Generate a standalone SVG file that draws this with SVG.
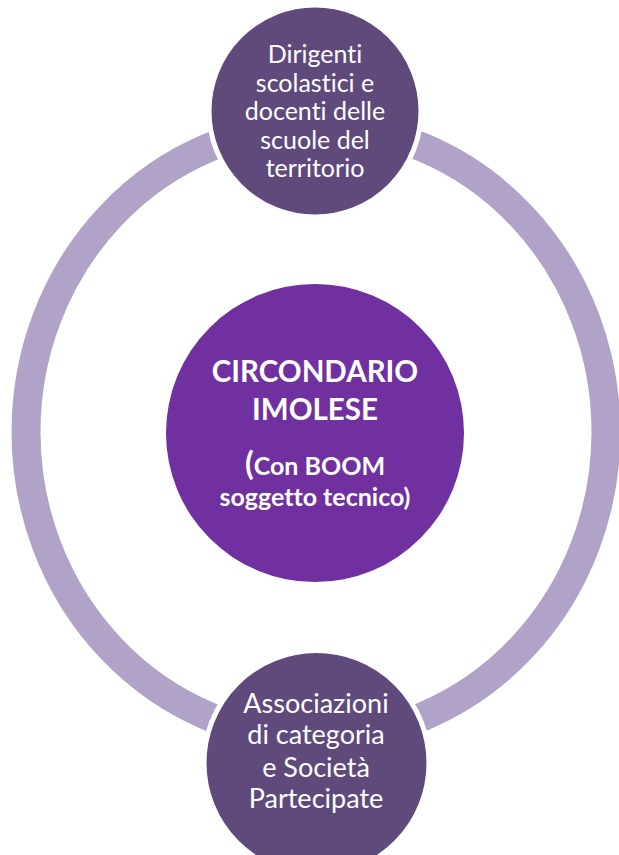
<svg xmlns="http://www.w3.org/2000/svg" width="619" height="855" viewBox="0 0 619 855">
<style>
.ring{fill:none;stroke:#B1A2C8;stroke-width:29}
.node{fill:#604A7B;stroke:#FFFFFF;stroke-width:5}
.center{fill:#7030A0}
.t{font-family:Lato,"Open Sans","Liberation Sans",sans-serif;fill:#FFFFFF;text-anchor:middle;font-variant-ligatures:none;font-feature-settings:"liga" 0,"clig" 0}
.tn{font-size:25px}
.tb{font-size:27px}
.tc{font-weight:bold;font-size:29.5px}
.tc2{font-weight:bold;font-size:25px}
</style>
<rect width="619" height="855" fill="#FFFFFF"/>
<g id="connectors">
<ellipse class="ring" cx="316" cy="432" rx="290" ry="306"/>
</g>
<g id="node-center">
<circle class="center" cx="315" cy="433" r="149"/>
<text class="t tc" x="315" y="382">CIRCONDARIO</text>
<text class="t tc" x="315" y="420">IMOLESE</text>
<text class="t tc2" x="315" y="475"><tspan font-size="32px">(</tspan>Con BOOM</text>
<text class="t tc2" x="315" y="506">soggetto tecnico)</text>
</g>
<g id="node-top">
<circle class="node" cx="315" cy="111" r="106"/>
<text class="t tn" x="315" y="63">Dirigenti</text>
<text class="t tn" x="315" y="91.5">scolastici e</text>
<text class="t tn" x="315" y="120">docenti delle</text>
<text class="t tn" x="315" y="148.5">scuole del</text>
<text class="t tn" x="315" y="177">territorio</text>
</g>
<g id="node-bottom">
<circle class="node" cx="316.5" cy="763" r="112.5"/>
<text class="t tb" x="316" y="713">Associazioni</text>
<text class="t tb" x="316" y="744">di categoria</text>
<text class="t tb" x="316" y="777">e Società</text>
<text class="t tb" x="316" y="808">Partecipate</text>
</g>
</svg>
